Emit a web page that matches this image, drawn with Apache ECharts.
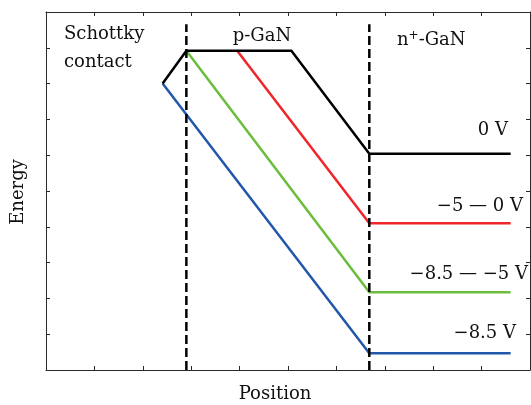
<!DOCTYPE html>
<html>
<head>
<meta charset="utf-8">
<script src="https://cdn.jsdelivr.net/npm/echarts@6/dist/echarts.min.js"></script>
<style>
  html, body { margin: 0; padding: 0; background: #fff; }
  #chart { width: 531px; height: 405px; }
</style>
</head>
<body>
<div id="chart"></div>
<script>
// Band-edge profile across the Schottky contact / p-GaN / n+-GaN stack
const bias0X   = [2.41, 2.90, 5.07, 6.68, 9.60];
const bias0Y   = [8.00, 8.92, 8.92, 6.04, 6.04];
const bias5X   = [3.95, 6.68, 9.60];
const bias5Y   = [8.92, 4.10, 4.10];
const bias85X  = [2.90, 6.68, 9.60];
const bias85Y  = [8.92, 2.17, 2.17];
const biasMaxX = [2.41, 6.68, 9.60];
const biasMaxY = [8.00, 0.47, 0.47];

// Interface markers (x position) and their vertical extent
const interfaceX = [2.90, 6.68];
const interfaceTop = 9.66;

const seriesNames = ['0 V', '−5 — 0 V', '−8.5 — −5 V', '−8.5 V'];
const seriesColors = ['#000000', '#f0262a', '#6cbd3e', '#2158aa'];

const FONT = 'DejaVu Serif';
const FS = 18;
const pairs = (xs, ys) => xs.map((x, i) => [x, ys[i]]);

const chart = echarts.init(document.getElementById('chart'), null, { renderer: 'canvas' });

const axisCommon = {
  type: 'value', min: 0, max: 10, interval: 1,
  axisLine: { show: true, onZero: false, lineStyle: { color: '#2a2a2a', width: 1 } },
  axisTick: { show: true, inside: true, length: 4, lineStyle: { color: '#2a2a2a', width: 1 } },
  axisLabel: { show: false },
  splitLine: { show: false }
};

const curves = [
  pairs(bias0X, bias0Y),
  pairs(bias5X, bias5Y),
  pairs(bias85X, bias85Y),
  pairs(biasMaxX, biasMaxY)
];

const series = curves.map((d, i) => ({
  name: seriesNames[i], type: 'line', data: d,
  symbol: 'none', silent: true, z: 6 - i,
  lineStyle: { color: seriesColors[i], width: 2.5, join: 'miter' }
}));

interfaceX.forEach(x => {
  series.push({
    type: 'line', data: [[x, 0], [x, interfaceTop]],
    symbol: 'none', silent: true, z: 10,
    lineStyle: { color: '#000', width: 2.5, type: [9, 4] }
  });
});

const txt = (left, top, text, align) => ({
  type: 'text', x: left, y: top,
  style: { text, font: FS + 'px "' + FONT + '"', fill: '#111', align: align || 'left', verticalAlign: 'middle' }
});

chart.setOption({
  animation: false,
  backgroundColor: '#fff',
  grid: { left: 46, right: 1, top: 12, bottom: 35 },
  xAxis: [
    Object.assign({ position: 'bottom' }, axisCommon),
    Object.assign({ position: 'top' }, axisCommon)
  ],
  yAxis: [
    Object.assign({ position: 'left' }, axisCommon),
    Object.assign({ position: 'right' }, axisCommon)
  ],
  series,
  graphic: [
    txt(64, 34, 'Schottky'),
    txt(64, 62, 'contact'),
    txt(262, 36, 'p-GaN', 'center'),
    { type: 'text', x: 397, y: 40,
      style: { rich: { s: { font: '12px "' + FONT + '"', fill: '#111', padding: [0, 0, 8, 0] } },
               text: 'n{s|+}-GaN', font: FS + 'px "' + FONT + '"', fill: '#111', verticalAlign: 'middle' } },
    txt(508, 130, seriesNames[0], 'right'),
    txt(523, 206, seriesNames[1], 'right'),
    txt(528, 274, seriesNames[2], 'right'),
    txt(516, 333, seriesNames[3], 'right'),
    txt(275, 394, 'Position', 'center'),
    { type: 'text', x: 18, y: 192, rotation: Math.PI / 2,
      style: { text: 'Energy', font: FS + 'px "' + FONT + '"', fill: '#111', align: 'center', verticalAlign: 'middle' } }
  ]
});
</script>
</body>
</html>
